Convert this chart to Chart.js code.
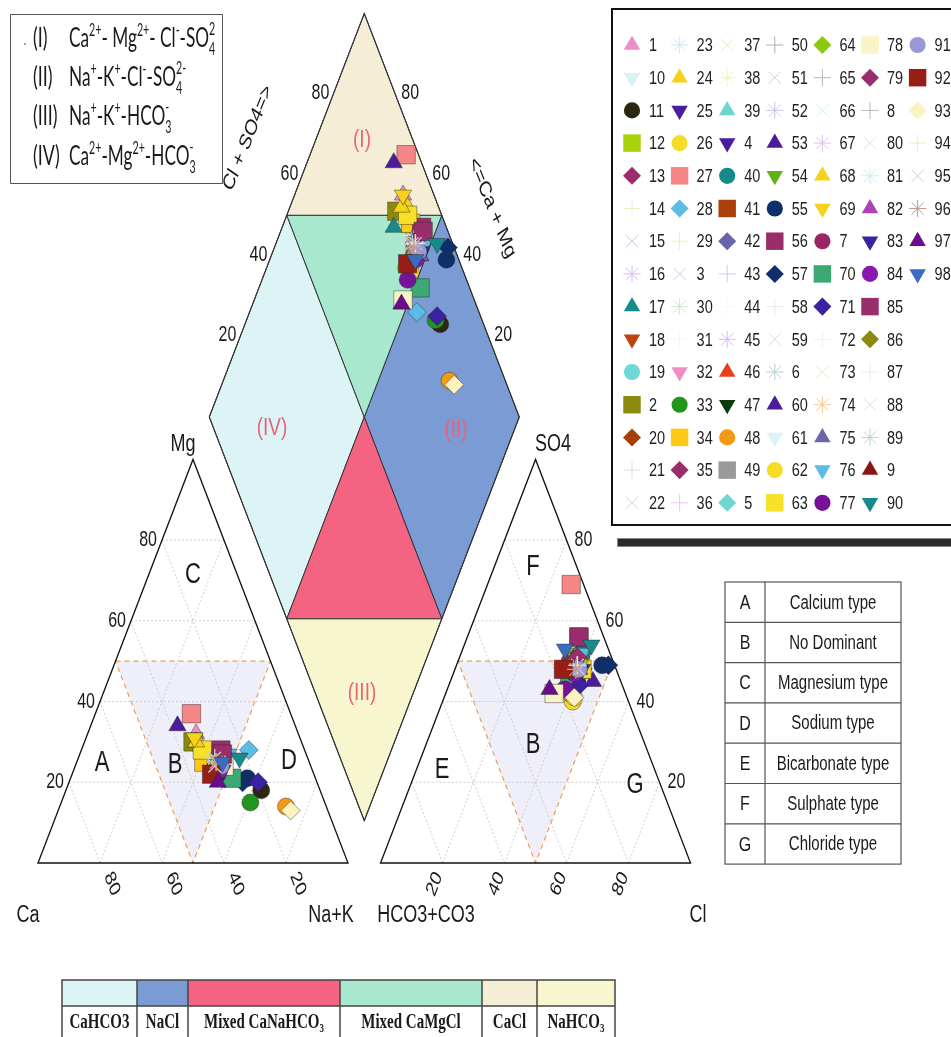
<!DOCTYPE html>
<html>
<head>
<meta charset="utf-8">
<script src="https://cdn.jsdelivr.net/npm/chart.js@4.4.1/dist/chart.umd.min.js"></script>
<style>
  html, body { margin: 0; padding: 0; background: #ffffff; }
  canvas { display: block; }
</style>
</head>
<body>
<canvas id="piper" width="951" height="1037"></canvas>
<script>
// ---------------- sample chemistry (% of meq/L) ----------------
const sampleIds = [
   1,  2,  3,  4,  5,  6,  7,  8,  9, 10, 11, 12, 13, 14, 15, 16, 17, 18, 19, 20,
  21, 22, 23, 24, 25, 26, 27, 28, 29, 30, 31, 32, 33, 34, 35, 36, 37, 38, 39, 40,
  41, 42, 43, 44, 45, 46, 47, 48, 49, 50, 51, 52, 53, 54, 55, 56, 57, 58, 59, 60,
  61, 62, 63, 64, 65, 66, 67, 68, 69, 70, 71, 72, 73, 74, 75, 76, 77, 78, 79, 80,
  81, 82, 83, 84, 85, 86, 87, 88, 89, 90, 91, 92, 93, 94, 95, 96, 97, 98
];
const caPct = [
  33, 35, 30, 31, 29, 30, 30, 29, 32, 31, 19, 30, 28, 31, 30, 29, 34, 32, 27, 30,
  32, 30, 29, 33, 30, 31, 32, 18, 31, 30, 30, 31, 24, 34, 28, 30, 29, 31, 29, 27,
  31, 29, 30, 30, 29, 32, 28, 13, 29, 30, 31, 30, 38, 30, 22, 27, 24, 30, 29, 30,
  30, 30, 33, 29, 30, 31, 30, 34, 34, 27, 19, 30, 29, 30, 29, 25, 31, 28, 28, 30,
  29, 30, 29, 30, 27, 30, 30, 29, 30, 22, 29, 33, 12, 30, 31, 30, 32, 28
];
const mgPct = [
  32, 30, 26, 24, 25, 25, 24, 26, 22, 27, 18, 26, 27, 25, 27, 24, 30, 23, 28, 24,
  25, 23, 26, 29, 23, 24, 37, 28, 26, 25, 25, 28, 15, 25, 26, 26, 25, 24, 27, 26,
  23, 24, 25, 25, 26, 22, 24, 14, 25, 24, 25, 26, 34, 25, 21, 28, 20, 25, 25, 22,
  24, 23, 28, 25, 25, 24, 26, 30, 31, 21, 20, 25, 24, 26, 23, 27, 22, 24, 27, 25,
  25, 25, 23, 23, 27, 24, 25, 25, 26, 26, 24, 22, 13, 25, 24, 25, 20, 25
];
const naKPct = [
  35, 35, 44, 45, 46, 45, 46, 45, 46, 42, 63, 44, 45, 44, 43, 47, 36, 45, 45, 46,
  43, 47, 45, 38, 47, 45, 31, 54, 43, 45, 45, 41, 61, 41, 46, 44, 46, 45, 44, 47,
  46, 47, 45, 45, 45, 46, 48, 73, 46, 46, 44, 44, 28, 45, 57, 45, 56, 45, 46, 48,
  46, 47, 39, 46, 45, 45, 44, 36, 35, 52, 61, 45, 47, 44, 48, 48, 47, 48, 45, 45,
  46, 45, 48, 47, 46, 46, 45, 46, 44, 52, 47, 45, 75, 45, 45, 45, 48, 47
];
const hco3Pct = [
  10, 14, 12, 13, 12, 13, 14, 12, 15, 11, 14, 11, 10, 12, 13, 12, 17, 13, 11, 12,
  14, 13, 12, 10, 11, 18,  4, 20, 12, 11, 12, 11, 15, 11, 10, 12, 13, 12, 10,  9,
  13, 12, 12, 12, 13, 13, 12, 18, 12, 12, 13, 12,  9, 12,  4,  8,  2, 12, 12, 12,
  13, 17, 11, 11, 12, 13, 12, 12, 10, 16, 14, 12, 13, 12, 12,  9, 19, 23, 11, 12,
  12, 12, 11, 14,  8, 13, 12, 12, 13,  5, 12, 17, 17, 12, 12, 13, 24, 14
];
const so4Pct = [
  52, 47, 48, 47, 50, 48, 50, 49, 46, 50, 45, 51, 52, 48, 49, 47, 48, 48, 50, 49,
  47, 46, 49, 50, 47, 40, 69, 43, 48, 50, 49, 50, 44, 49, 51, 49, 48, 47, 52, 52,
  48, 49, 48, 49, 48, 48, 49, 42, 49, 48, 48, 49, 45, 50, 49, 56, 49, 49, 48, 47,
  48, 41, 48, 50, 49, 48, 48, 50, 51, 46, 44, 49, 48, 49, 48, 52, 43, 42, 51, 48,
  49, 48, 48, 47, 56, 48, 49, 48, 48, 54, 48, 48, 41, 49, 48, 48, 43, 53
];
const clPct = [
  38, 39, 40, 40, 38, 39, 36, 39, 39, 39, 41, 38, 38, 40, 38, 41, 35, 39, 39, 39,
  39, 41, 39, 40, 42, 42, 27, 37, 40, 39, 39, 39, 41, 40, 39, 39, 39, 41, 38, 39,
  39, 39, 40, 39, 39, 39, 39, 40, 39, 40, 39, 39, 46, 38, 47, 36, 49, 39, 40, 41,
  39, 42, 41, 39, 39, 39, 40, 38, 39, 38, 42, 39, 39, 39, 40, 39, 38, 35, 38, 40,
  39, 40, 41, 39, 36, 39, 39, 40, 39, 41, 40, 35, 42, 39, 40, 39, 33, 33
];

// ---------------- marker style per sample ----------------
const markerShape = [
  'tri', 'sq', 'x', 'itri', 'dia', 'ast', 'circ', 'plus', 'tri', 'itri',
  'circ', 'sq', 'dia', 'plus', 'x', 'ast', 'tri', 'itri', 'circ', 'dia',
  'plus', 'x', 'ast', 'tri', 'itri', 'circ', 'sq', 'dia', 'plus', 'ast',
  'plus', 'itri', 'circ', 'sq', 'dia', 'plus', 'x', 'ast', 'tri', 'circ',
  'sq', 'dia', 'plus', 'plus', 'ast', 'tri', 'itri', 'circ', 'sq', 'plus',
  'x', 'ast', 'tri', 'itri', 'circ', 'sq', 'dia', 'plus', 'x', 'tri',
  'itri', 'circ', 'sq', 'dia', 'plus', 'x', 'ast', 'tri', 'itri', 'sq',
  'dia', 'plus', 'x', 'ast', 'tri', 'itri', 'circ', 'sq', 'dia', 'x',
  'ast', 'tri', 'itri', 'circ', 'sq', 'dia', 'plus', 'x', 'ast', 'itri',
  'circ', 'sq', 'dia', 'plus', 'x', 'ast', 'tri', 'itri'
];
const markerColor = [
  '#EE8FC4', '#8C8A0E', '#D4C4EC', '#4B1C9C', '#6CD8D0', '#B8D0D8', '#9C2566', '#B8B8B8', '#8C1414', '#D6F2F6',
  '#2A2810', '#A8D20A', '#9A2E6C', '#F0EEC0', '#C8C0E4', '#D8B8EC', '#178A8C', '#C2420E', '#6ED8D8', '#A8400C',
  '#E4DCE0', '#C8DCC8', '#C4ECF0', '#F6D21C', '#4B1C9C', '#F5DC28', '#F48686', '#5CBCE6', '#F4EDB0', '#C8ECC0',
  '#F6F6F6', '#F08EC2', '#22961C', '#FFC814', '#9A2E6C', '#E8C8EC', '#F0E6C6', '#F4F0C0', '#6AD6D0', '#168A86',
  '#A8400C', '#6A64A8', '#D8C8EC', '#F8F8F8', '#D8B8EC', '#E8401C', '#0C3A0C', '#F39A12', '#9A9A9A', '#B0B0B0',
  '#C8D4C0', '#D0C4EC', '#4B1C9C', '#5EB314', '#0E2F6A', '#9A2E6C', '#0E2F6A', '#E6ECF0', '#D8DCD8', '#4B1C9C',
  '#DCF4F8', '#F5DC28', '#F7E02A', '#8CC810', '#B8B0C8', '#D4ECF0', '#DCC0E8', '#F6D21C', '#F6D21C', '#3CA874',
  '#3A22A0', '#F0F0F0', '#D8ECC8', '#F8C8A0', '#6868A8', '#5CBCE6', '#76129A', '#FBF3C8', '#9A2E6C', '#E4ECC8',
  '#C8ECF0', '#B040B8', '#3A22A0', '#8A18B0', '#9A2E6C', '#8C8A0E', '#ECECEC', '#E0DCEC', '#B4D8C4', '#178A8C',
  '#9898D8', '#961E14', '#FBF2C0', '#F4ECB8', '#C8CCE0', '#C89C88', '#6A0C8C', '#3A6CC0'
];

// ---------------- classification tables ----------------
const gridTicks = [20, 40, 60, 80];
const faciesNames  = ['CaHCO3', 'NaCl', 'Mixed CaNaHCO3', 'Mixed CaMgCl', 'CaCl', 'NaHCO3'];
const faciesColors = ['#DCF4F6', '#7B9BD4', '#F56383', '#A8E8CF', '#F6EDD6', '#F8F6CE'];
const typeCodes  = ['A', 'B', 'C', 'D', 'E', 'F', 'G'];
const typeNames  = ['Calcium type', 'No Dominant', 'Magnesium type', 'Sodium type',
                    'Bicarbonate type', 'Sulphate type', 'Chloride type'];
const hydroTypes = [
  ['(I)',   [['Ca'], ['2+', 'sup'], ['- Mg'], ['2+', 'sup'], ['- Cl'], ['-', 'sup'], ['-SO'], [['4', '2'], 'both']]],
  ['(II)',  [['Na'], ['+', 'sup'], ['-K'], ['+', 'sup'], ['-Cl'], ['-', 'sup'], ['-SO'], [['4', '2-'], 'both']]],
  ['(III)', [['Na'], ['+', 'sup'], ['-K'], ['+', 'sup'], ['-HCO'], [['3', '-'], 'both']]],
  ['(IV)',  [['Ca'], ['2+', 'sup'], ['-Mg'], ['2+', 'sup'], ['-HCO'], [['3', '-'], 'both']]]
];

// ---------------- Piper geometry (triangle side = 100 units) ----------------
const GAP = 10.5;
const H = Math.sqrt(3) / 2;
const AX0 = 100 + GAP;                                      // left vertex of the anion triangle
const DB = { x: 100 + GAP / 2, y: GAP / 2 * Math.sqrt(3) }; // bottom vertex of the diamond

function cationXY(ca, mg, nk) {
  const t = ca + mg + nk;
  mg = 100 * mg / t; nk = 100 * nk / t;
  return { x: nk + mg / 2, y: mg * H };
}
function anionXY(h, s, c) {
  const t = h + s + c;
  s = 100 * s / t; c = 100 * c / t;
  return { x: AX0 + c + s / 2, y: s * H };
}
// nk: Na+K %, cs: Cl+SO4 %
function diamondXY(nk, cs) {
  const a = 1 - nk / 100, b = cs / 100;
  return { x: DB.x - 50 * a + 50 * b, y: DB.y + 100 * H * (a + b) };
}

const SHAPES = {
  tri:  { style: 'triangle', rot: 0,   r: 10 },
  itri: { style: 'triangle', rot: 180, r: 10 },
  sq:   { style: 'rect',     rot: 0,   r: 13 },
  dia:  { style: 'rectRot',  rot: 0,   r: 9.5 },
  circ: { style: 'circle',   rot: 0,   r: 8.5 },
  plus: { style: 'cross',    rot: 0,   r: 9, line: true },
  x:    { style: 'crossRot', rot: 0,   r: 9, line: true },
  ast:  { style: 'star',     rot: 0,   r: 9, line: true }
};

const datasets = sampleIds.map((id, i) => {
  const st = SHAPES[markerShape[i]];
  const nk = 100 * naKPct[i] / (caPct[i] + mgPct[i] + naKPct[i]);
  const cs = 100 * (so4Pct[i] + clPct[i]) / (hco3Pct[i] + so4Pct[i] + clPct[i]);
  return {
    label: String(id),
    data: [
      cationXY(caPct[i], mgPct[i], naKPct[i]),
      anionXY(hco3Pct[i], so4Pct[i], clPct[i]),
      diamondXY(nk, cs)
    ],
    pointStyle: st.style,
    pointRotation: st.rot,
    pointRadius: st.r,
    pointHoverRadius: st.r,
    backgroundColor: markerColor[i],
    borderColor: st.line ? markerColor[i] : 'rgba(40,40,40,0.55)',
    borderWidth: st.line ? 1.3 : 0.8,
    showLine: false,
    order: sampleIds.length - i
  };
});

// ---------------- drawing helpers ----------------
const SY = 1.3;  // vertical stretch of lettering
const SANS = '"Liberation Sans", Arial, sans-serif';
const SERIF = '"Liberation Serif", "Times New Roman", serif';
const HUMAN = 'Lato, "Open Sans", sans-serif';

function text(ctx, str, x, y, o = {}) {
  ctx.save();
  ctx.translate(x, y);
  ctx.scale(o.sx || 1, o.sy || SY);
  if (o.rot) ctx.rotate(o.rot);
  ctx.font = (o.weight ? o.weight + ' ' : '') + (o.size || 16) + 'px ' + (o.family || SANS);
  ctx.fillStyle = o.color || '#1a1a1a';
  ctx.textAlign = o.align || 'center';
  ctx.textBaseline = o.base || 'middle';
  ctx.fillText(str, 0, 0);
  ctx.restore();
}

// runs: [str] normal, [str,'sup'], [str,'sub'], [[sub,sup],'both']
function richText(ctx, runs, x, y, o) {
  ctx.save();
  ctx.translate(x, y);
  ctx.scale(o.sx || 1, o.sy || SY);
  ctx.fillStyle = o.color || '#1a1a1a';
  ctx.textBaseline = 'alphabetic';
  ctx.textAlign = 'left';
  const big = (o.weight ? o.weight + ' ' : '') + o.size + 'px ' + o.family;
  const small = (o.weight ? o.weight + ' ' : '') + Math.round(o.size * 0.62) + 'px ' + o.family;
  let total = 0;
  for (const r of runs) {
    if (!r[1]) { ctx.font = big; total += ctx.measureText(r[0]).width; }
    else if (r[1] === 'both') { ctx.font = small; total += Math.max(ctx.measureText(r[0][0]).width, ctx.measureText(r[0][1]).width); }
    else { ctx.font = small; total += ctx.measureText(r[0]).width; }
  }
  let cx = o.center ? -total / 2 : 0;
  for (const r of runs) {
    if (!r[1]) {
      ctx.font = big; ctx.fillText(r[0], cx, 0); cx += ctx.measureText(r[0]).width;
    } else if (r[1] === 'sup') {
      ctx.font = small; ctx.fillText(r[0], cx, -o.size * 0.42); cx += ctx.measureText(r[0]).width;
    } else if (r[1] === 'sub') {
      ctx.font = small; ctx.fillText(r[0], cx, o.size * 0.22); cx += ctx.measureText(r[0]).width;
    } else {
      ctx.font = small;
      ctx.fillText(r[0][0], cx, o.size * 0.28);
      ctx.fillText(r[0][1], cx, -o.size * 0.45);
      cx += Math.max(ctx.measureText(r[0][0]).width, ctx.measureText(r[0][1]).width);
    }
  }
  ctx.restore();
}

function chemRuns(name) {
  if (name === 'Mixed CaNaHCO3') return [['Mixed CaNaHCO'], ['3', 'sub']];
  if (name === 'NaHCO3') return [['NaHCO'], ['3', 'sub']];
  return [[name]];
}

function poly(ctx, pts, fill, stroke, lw, dash) {
  ctx.save();
  ctx.beginPath();
  pts.forEach((p, k) => (k ? ctx.lineTo(p[0], p[1]) : ctx.moveTo(p[0], p[1])));
  ctx.closePath();
  if (fill) { ctx.fillStyle = fill; ctx.fill(); }
  if (stroke) {
    ctx.strokeStyle = stroke; ctx.lineWidth = lw || 1;
    ctx.setLineDash(dash || []);
    ctx.stroke();
  }
  ctx.restore();
}
function seg(ctx, a, b, stroke, lw, dash) {
  ctx.save();
  ctx.beginPath(); ctx.moveTo(a[0], a[1]); ctx.lineTo(b[0], b[1]);
  ctx.strokeStyle = stroke; ctx.lineWidth = lw; ctx.setLineDash(dash || []);
  ctx.stroke(); ctx.restore();
}

function drawMarker(ctx, shape, color, x, y, scale) {
  const st = SHAPES[shape];
  ctx.save();
  ctx.fillStyle = color;
  ctx.strokeStyle = color;
  const opts = { pointStyle: st.style, rotation: st.rot, radius: st.r * scale, borderWidth: st.line ? 1.3 : 0 };
  if (Chart.helpers && Chart.helpers.drawPoint) {
    Chart.helpers.drawPoint(ctx, opts, x, y);
  } else {
    ctx.beginPath(); ctx.arc(x, y, opts.radius, 0, Math.PI * 2); ctx.fill();
  }
  ctx.restore();
}

// ---------------- Piper frame (drawn under the samples) ----------------
const piperFrame = {
  id: 'piperFrame',
  beforeDatasetsDraw(chart) {
    const ctx = chart.ctx;
    const xs = chart.scales.x, ys = chart.scales.y;
    const P = (p) => [xs.getPixelForValue(p.x), ys.getPixelForValue(p.y)];
    const D = (nk, cs) => P(diamondXY(nk, cs));
    const C = (ca, mg, nk) => P(cationXY(ca, mg, nk));
    const A = (h, s, c) => P(anionXY(h, s, c));

    // facies fields of the diamond, in (Na+K %, Cl+SO4 %)
    const fields = [
      { f: 0, pts: [[0, 0], [0, 50], [50, 50], [50, 0]] },        // CaHCO3
      { f: 1, pts: [[50, 50], [50, 100], [100, 100], [100, 50]] },// NaCl
      { f: 2, pts: [[50, 50], [100, 50], [50, 0]] },              // Mixed CaNaHCO3
      { f: 3, pts: [[0, 50], [50, 100], [50, 50]] },              // Mixed CaMgCl
      { f: 4, pts: [[0, 100], [0, 50], [50, 100]] },              // CaCl
      { f: 5, pts: [[50, 0], [100, 50], [100, 0]] }               // NaHCO3
    ];
    fields.forEach(fd => poly(ctx, fd.pts.map(q => D(q[0], q[1])), faciesColors[fd.f], '#333', 1));
    poly(ctx, [D(0, 0), D(0, 100), D(100, 100), D(100, 0)], null, '#333', 1.1);

    // ternary triangles with the "no dominant" field
    const tri = (T) => {
      const b = [T(50, 50, 0), T(0, 50, 50), T(50, 0, 50)];
      poly(ctx, b, '#EFEFF9', null);
      gridTicks.forEach(k => {
        const g = '#C9C9C9', d = [2, 2];
        seg(ctx, T(100 - k, k, 0), T(0, k, 100 - k), g, 0.9, d);
        seg(ctx, T(k, 100 - k, 0), T(k, 0, 100 - k), g, 0.9, d);
        seg(ctx, T(100 - k, 0, k), T(0, 100 - k, k), g, 0.9, d);
      });
      poly(ctx, b, null, '#EE9F55', 1.2, [5, 4]);
      poly(ctx, [T(100, 0, 0), T(0, 100, 0), T(0, 0, 100)], null, '#111', 1.3);
    };
    tri(C);
    tri(A);

    // ---- tick labels ----
    const tickFont = { size: 16, sy: 1.35 };
    gridTicks.forEach(k => {
      let p = C(100 - k, k, 0);
      text(ctx, String(k), p[0] - 5, p[1], { ...tickFont, align: 'right' });
      p = C(k, 0, 100 - k);
      text(ctx, String(k), p[0] + 12, p[1] + 21, { ...tickFont, rot: 63 * Math.PI / 180 });
      p = A(0, k, 100 - k);
      text(ctx, String(k), p[0] + 8, p[1], { ...tickFont, align: 'left' });
      p = A(100 - k, 0, k);
      text(ctx, String(k), p[0] - 8, p[1] + 21, { ...tickFont, rot: -63 * Math.PI / 180 });
      p = D(0, k);
      text(ctx, String(k), p[0] - 4, p[1] - 1, { ...tickFont, align: 'right' });
      p = D(100 - k, 100);
      text(ctx, String(k), p[0] + 6, p[1] - 1, { ...tickFont, align: 'left' });
    });

    // ---- axis names ----
    const an = { size: 18, sy: 1.35 };
    text(ctx, 'Mg', 183, 444, an);
    text(ctx, 'SO4', 553, 444, an);
    text(ctx, 'Ca', 28, 915, an);
    text(ctx, 'Na+K', 331, 915, an);
    text(ctx, 'HCO3+CO3', 426, 915, an);
    text(ctx, 'Cl', 698, 915, an);
    text(ctx, '<=Ca + Mg', 492, 208, { size: 17, sy: 1.3, rot: 62.5 * Math.PI / 180 });

    // ---- field letters ----
    const lf = { size: 22, sy: 1.3 };
    text(ctx, 'A', 102, 763, lf);
    text(ctx, 'B', 175, 765, lf);
    text(ctx, 'C', 193, 575, lf);
    text(ctx, 'D', 289, 761, lf);
    text(ctx, 'E', 442, 770, lf);
    text(ctx, 'F', 533, 567, lf);
    text(ctx, 'B', 533, 745, lf);
    text(ctx, 'G', 635, 785, lf);

    // ---- hydrochemical type labels in the diamond ----
    const rl = { size: 19, sy: 1.3, color: '#E9627A' };
    text(ctx, '(I)', 362, 140, rl);
    text(ctx, '(II)', 456, 430, rl);
    text(ctx, '(III)', 362, 693, rl);
    text(ctx, '(IV)', 272, 428, rl);
  },

  // ---------------- legends & tables (on top) ----------------
  afterDatasetsDraw(chart) {
    const ctx = chart.ctx;

    // hydrochemical types box
    poly(ctx, [[10.5, 14.5], [222.5, 14.5], [222.5, 183.5], [10.5, 183.5]], '#fff', '#555', 1);
    text(ctx, '.', 25, 40, { size: 12, family: HUMAN, color: '#666' });
    const baseY = [47, 86, 125, 165];
    hydroTypes.forEach((h, k) => {
      text(ctx, h[0], 33, baseY[k], { size: 21, family: HUMAN, align: 'left', base: 'alphabetic', sx: 0.85 });
      richText(ctx, h[1], 69, baseY[k], { size: 21, family: HUMAN, sx: 0.82 });
    });
    // diamond axis title beside the box
    text(ctx, 'Cl + SO4=>', 248, 138, { size: 17, sy: 1.3, rot: -62.5 * Math.PI / 180 });

    // sample legend
    ctx.save();
    ctx.fillStyle = '#fff';
    ctx.fillRect(612, 9, 345, 516);
    ctx.strokeStyle = '#111'; ctx.lineWidth = 2;
    ctx.strokeRect(612, 9, 345, 516);
    ctx.fillStyle = '#2a2a2a';
    ctx.fillRect(617, 538, 340, 9);
    ctx.strokeStyle = '#888'; ctx.lineWidth = 1;
    ctx.strokeRect(617.5, 538.5, 340, 8);
    ctx.restore();
    const order = sampleIds.map((id, i) => i).sort((a, b) => String(sampleIds[a]) < String(sampleIds[b]) ? -1 : 1);
    order.forEach((i, k) => {
      const col = Math.floor(k / 15), row = k % 15;
      const mx = 632 + 47.6 * col, my = 45 + 32.7 * row;
      drawMarker(ctx, markerShape[i], markerColor[i], mx, my, 0.95);
      text(ctx, String(sampleIds[i]), mx + 17, my + 1, { size: 14.5, sy: 1.3, align: 'left', color: '#222' });
    });

    // water type table
    const tx0 = 725, tx1 = 765, tx2 = 901, ty0 = 582, rh = 40.3;
    ctx.save();
    ctx.strokeStyle = '#555'; ctx.lineWidth = 1.2;
    ctx.strokeRect(tx0, ty0, tx2 - tx0, rh * 7);
    ctx.beginPath(); ctx.moveTo(tx1, ty0); ctx.lineTo(tx1, ty0 + rh * 7); ctx.stroke();
    for (let r = 1; r < 7; r++) { ctx.beginPath(); ctx.moveTo(tx0, ty0 + rh * r); ctx.lineTo(tx2, ty0 + rh * r); ctx.stroke(); }
    ctx.restore();
    typeCodes.forEach((c, r) => {
      const cy = ty0 + rh * r + rh / 2 + 1;
      text(ctx, c, (tx0 + tx1) / 2, cy, { size: 16, sy: 1.3 });
      text(ctx, typeNames[r], (tx1 + tx2) / 2, cy, { size: 15, sy: 1.3 });
    });

    // facies colour bar
    const bx = [62, 137, 188, 340, 482, 537, 615];
    const by0 = 980, by1 = 1006, by2 = 1040;
    ctx.save();
    faciesColors.forEach((col, k) => { ctx.fillStyle = col; ctx.fillRect(bx[k], by0, bx[k + 1] - bx[k], by1 - by0); });
    ctx.strokeStyle = '#444'; ctx.lineWidth = 1.5;
    ctx.strokeRect(bx[0], by0, bx[6] - bx[0], by2 - by0);
    ctx.beginPath(); ctx.moveTo(bx[0], by1); ctx.lineTo(bx[6], by1); ctx.stroke();
    bx.slice(1, 6).forEach(x => { ctx.beginPath(); ctx.moveTo(x, by0); ctx.lineTo(x, by2); ctx.stroke(); });
    ctx.restore();
    faciesNames.forEach((n, k) => {
      richText(ctx, chemRuns(n), (bx[k] + bx[k + 1]) / 2, 1028, { size: 15, family: SERIF, weight: 'bold', sy: 1.35, center: true });
    });
  }
};

new Chart(document.getElementById('piper').getContext('2d'), {
  type: 'scatter',
  data: { datasets },
  options: {
    responsive: false,
    animation: false,
    events: [],
    layout: { padding: 0, autoPadding: false },
    plugins: { legend: { display: false }, tooltip: { enabled: false } },
    scales: {
      x: { type: 'linear', min: -12.26, max: 294.52, display: false },
      y: { type: 'linear', min: -37.34, max: 185.19, display: false }
    }
  },
  plugins: [piperFrame]
});
</script>
</body>
</html>
